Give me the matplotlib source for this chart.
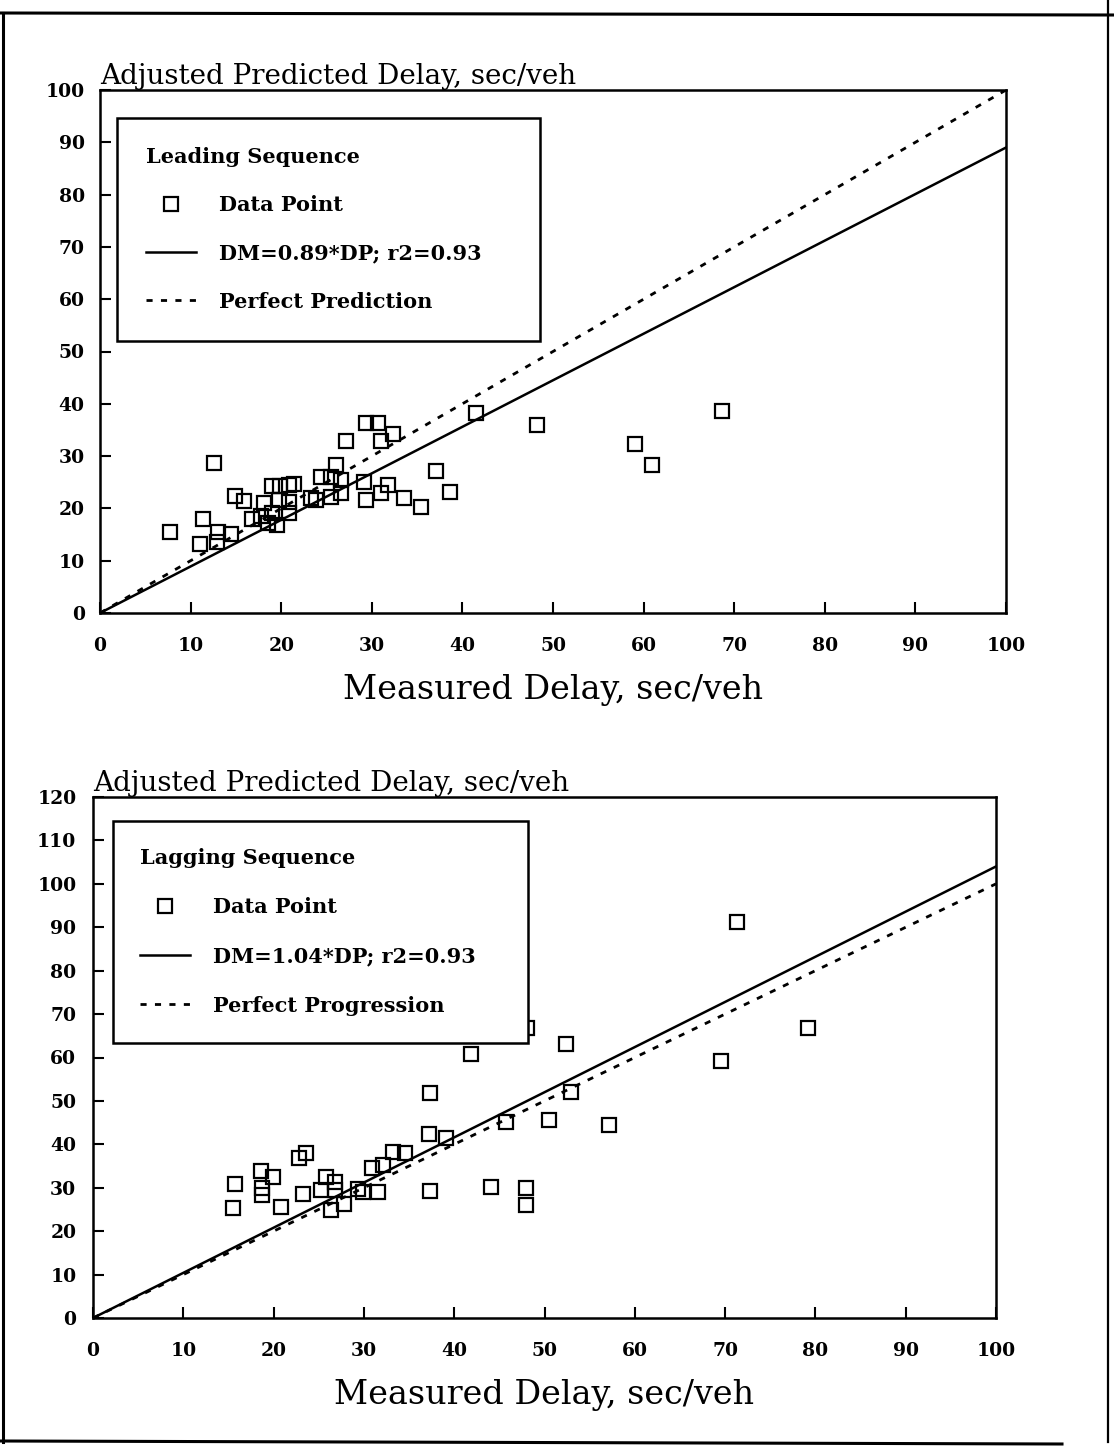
import matplotlib
matplotlib.use("Agg")
import matplotlib.pyplot as plt
from matplotlib.lines import Line2D
import numpy as np

# ---------------- data ----------------
lead_x = [7.7, 11.4, 11.0, 12.6, 13.0, 12.9, 14.5, 14.9, 15.9, 16.8, 17.8, 18.1,
          18.5, 19.5, 19.0, 19.9, 20.9, 21.4, 19.8, 20.9, 20.9, 19.0, 23.3, 23.8,
          24.4, 25.5, 26.0, 26.6, 25.5, 26.6, 27.1, 29.4, 30.7, 31.0, 32.3, 29.1,
          29.4, 31.0, 31.8, 33.5, 35.4, 37.1, 38.6, 41.5, 48.2, 59.0, 60.9, 68.7]
lead_y = [15.4, 17.9, 13.2, 28.6, 15.4, 13.6, 15.2, 22.4, 21.5, 18.0, 18.6, 21.0,
          17.2, 16.8, 24.2, 24.2, 24.5, 24.7, 21.6, 21.3, 19.1, 19.1, 21.9, 21.6,
          26.0, 26.0, 28.3, 25.4, 22.2, 22.9, 32.9, 36.4, 36.4, 32.9, 34.2, 25.1,
          21.6, 22.9, 24.5, 21.9, 20.2, 27.2, 23.2, 38.3, 36.0, 32.3, 28.3, 38.6]

lag_x = [52.4, 41.9, 37.3, 52.9, 45.7, 50.5, 57.1, 37.2, 39.1, 33.2, 34.5, 30.9,
         32.1, 23.6, 22.8, 18.6, 19.9, 15.7, 18.7, 18.7, 15.5, 20.8, 23.3, 25.8,
         26.8, 26.8, 25.2, 26.4, 27.8, 29.4, 29.9, 31.6, 37.3, 44.1, 48.0, 47.9,
         48.1, 69.5, 71.3, 79.2]
lag_y = [63.1, 60.7, 51.8, 52.1, 45.2, 45.6, 44.5, 42.3, 41.4, 38.3, 38.1, 34.6,
         35.2, 38.1, 36.8, 33.9, 32.5, 30.8, 30.0, 28.3, 25.4, 25.6, 28.5, 32.5,
         31.4, 29.5, 29.5, 24.9, 26.3, 29.6, 29.0, 29.1, 29.3, 30.2, 29.9, 26.0,
         66.8, 59.2, 91.2, 66.8]

lead_slope = 0.89
lag_slope = 1.04
line_x = [0, 100]

top_title = "Adjusted Predicted Delay, sec/veh"
bot_title = "Adjusted Predicted Delay, sec/veh"
xlabel = "Measured Delay, sec/veh"
lead_labels = ["Data Point", "DM=0.89*DP; r2=0.93", "Perfect Prediction"]
lag_labels = ["Data Point", "DM=1.04*DP; r2=0.93", "Perfect Progression"]

# ---------------- figure ----------------
W, H = 1114, 1454
fig = plt.figure(figsize=(W / 100, H / 100), dpi=100)
SERIF = ["DejaVu Serif"]

def px_axes(l, t, r, b):
    return fig.add_axes([l / W, (H - b) / H, (r - l) / W, (b - t) / H])

ax1 = px_axes(100, 90, 1006, 613)
ax2 = px_axes(93, 797, 996, 1318)

def style(ax, ymax, ystep, title, ypad):
    ax.set_xlim(0, 100)
    ax.set_ylim(0, ymax)
    ax.set_xticks(np.arange(0, 101, 10))
    ax.set_yticks(np.arange(0, ymax + 1, ystep))
    for s in ax.spines.values():
        s.set_linewidth(1.8)
    ax.tick_params(axis="x", direction="in", length=8, width=1.5, pad=17,
                   labelsize=13.5)
    ax.tick_params(axis="y", direction="in", length=8, width=1.5, pad=ypad,
                   labelsize=13.5)
    for lab in ax.get_xticklabels() + ax.get_yticklabels():
        lab.set_fontfamily(SERIF)
        lab.set_fontweight("bold")
    ax.set_xlabel(xlabel, fontsize=24, family=SERIF, labelpad=14)
    ax.set_title(title, loc="left", fontsize=20, family=SERIF, pad=3)

def draw(ax, xs, ys, slope, labels, legtitle, anchor, bpad, lsp):
    pts, = ax.plot(xs, ys, linestyle="none", marker="s", ms=9.5, mew=1.6,
                   mfc="none", mec="black", zorder=3)
    fit, = ax.plot(line_x, [slope * v for v in line_x], color="black", lw=1.8,
                   zorder=2)
    perf, = ax.plot(line_x, line_x, color="black", lw=2.0,
                    linestyle=(0, (2.2, 3.0)), zorder=2)
    leg = ax.legend([pts, fit, perf], labels, title=legtitle, loc="upper left",
                    bbox_to_anchor=anchor, mode="expand", frameon=True,
                    fancybox=False, edgecolor="black", framealpha=1,
                    prop={"family": SERIF, "weight": "bold", "size": 15},
                    title_fontproperties={"family": SERIF, "weight": "bold",
                                          "size": 15},
                    alignment="left", borderpad=bpad, labelspacing=lsp,
                    handlelength=2.4, handletextpad=1.1, borderaxespad=0)
    leg.get_frame().set_linewidth(1.8)
    leg.set_zorder(5)
    return leg

style(ax1, 100, 10, top_title, 11)
style(ax2, 120, 10, bot_title, 12)

draw(ax1, lead_x, lead_y, lead_slope, lead_labels, "Leading Sequence",
     ((117 - 100) / 906, (613 - 118) / 523, 423 / 906, 0.0), 1.4, 1.35)
draw(ax2, lag_x, lag_y, lag_slope, lag_labels, "Lagging Sequence",
     ((113 - 93) / 903, (1318 - 821) / 521, 415 / 903, 0.0), 1.3, 1.4)

# page border
def fline(x0, y0, x1, y1, lw=2.2):
    fig.add_artist(Line2D([x0 / W, x1 / W], [(H - y0) / H, (H - y1) / H],
                          color="black", lw=lw))

fline(0, 13, W, 15)
fline(3, 13, 3, 1442)
fline(0, 1441, 1062, 1444)
fline(1108, 0, 1108, 1442, lw=1.6)

fig.savefig("out.png", dpi=100, facecolor="white")
